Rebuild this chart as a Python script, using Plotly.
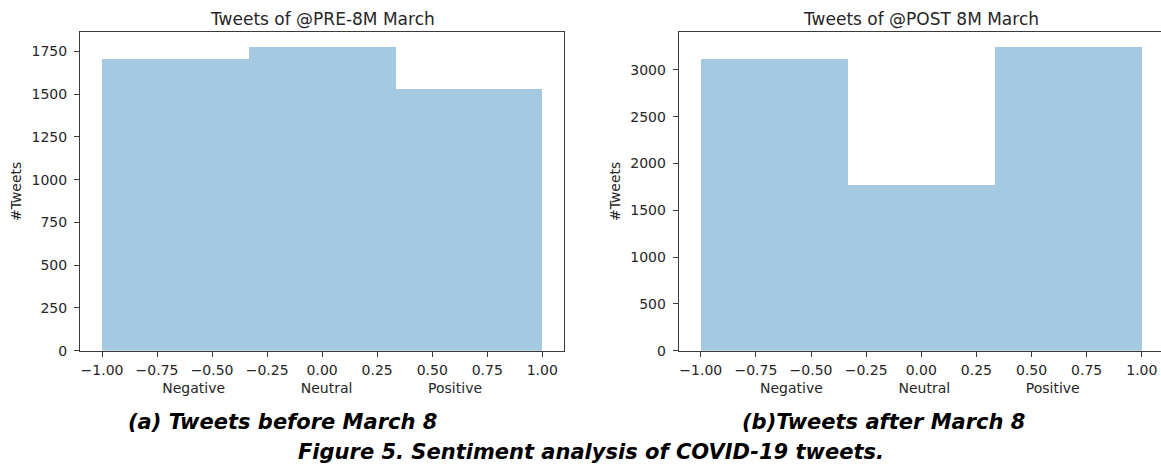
import plotly.graph_objects as go

# Sentiment histogram: three equal bins over the polarity score range [-1, 1]
bin_edges = [-1.0, -1 / 3, 1 / 3, 1.0]
sentiment_labels = ["Negative", "Neutral", "Positive"]
pre_counts = [1705, 1775, 1530]
post_counts = [3115, 1775, 3243]

x_ticks = [-1.0, -0.75, -0.5, -0.25, 0.0, 0.25, 0.5, 0.75, 1.0]
pre_title = "Tweets of @PRE-8M March"
post_title = "Tweets of @POST 8M March"
caption_a = "(a) Tweets before March 8"
caption_b = "(b)Tweets after March 8"
figure_caption = "Figure 5. Sentiment analysis of COVID-19 tweets."

centers = [(a + b) / 2 for a, b in zip(bin_edges[:-1], bin_edges[1:])]
widths = [b - a for a, b in zip(bin_edges[:-1], bin_edges[1:])]

W, H = 1161, 464
BAR = "rgba(31,119,180,0.4)"
AX = "#3a3a3a"
TXT = "#262626"
FONT = "DejaVu Sans"

gap = "\u00a0" * 17
xlabel = gap.join(sentiment_labels)

fig = go.Figure()
fig.add_trace(go.Bar(x=centers, y=pre_counts, width=widths,
                     marker=dict(color=BAR, line=dict(width=0)),
                     xaxis="x", yaxis="y", showlegend=False))
fig.add_trace(go.Bar(x=centers, y=post_counts, width=widths,
                     marker=dict(color=BAR, line=dict(width=0)),
                     xaxis="x2", yaxis="y2", showlegend=False))


def xaxis_style(domain, rng, anchor):
    return dict(domain=domain, range=rng, anchor=anchor, automargin=False,
                tickmode="array", tickvals=x_ticks, tickformat=".2f",
                ticks="outside", ticklen=5, tickwidth=1, tickcolor=AX,
                ticklabelstandoff=1,
                showline=True, linecolor=AX, linewidth=1, mirror=True,
                showgrid=False, zeroline=False,
                tickfont=dict(family=FONT, size=14, color=TXT),
                title=dict(text=xlabel, standoff=6,
                           font=dict(family=FONT, size=14, color=TXT)))


def yaxis_style(domain, top, dtick, anchor, mirror):
    return dict(domain=domain, range=[0, top], anchor=anchor, automargin=False,
                tick0=0, dtick=dtick,
                ticks="outside", ticklen=5, tickwidth=1, tickcolor=AX,
                ticklabelstandoff=4,
                showline=True, linecolor=AX, linewidth=1, mirror=mirror,
                showgrid=False, zeroline=False,
                tickfont=dict(family=FONT, size=14, color=TXT),
                title=dict(text="#Tweets", standoff=6,
                           font=dict(family=FONT, size=14, color=TXT)))


ydom = [1 - 350.7 / H, 1 - 32 / H]
fig.update_layout(
    width=W, height=H,
    margin=dict(l=0, r=0, t=0, b=0, pad=0),
    paper_bgcolor="white", plot_bgcolor="white",
    bargap=0,
    xaxis=xaxis_style([80 / W, 564.3 / W], [-1.1, 1.1], "y"),
    yaxis=yaxis_style(ydom, max(pre_counts) * 1.05, 250, "x", True),
    xaxis2=xaxis_style([678.7 / W, 1.0], [-1.1, 1.087], "y2"),
    yaxis2=yaxis_style(ydom, max(post_counts) * 1.05, 500, "x2", False),
)

annotations = [
    dict(text=pre_title, x=322 / W, y=1 - 19 / H, font=dict(size=17)),
    dict(text=post_title, x=921 / W, y=1 - 19 / H, font=dict(size=17)),
    dict(text=caption_a, x=282 / W, y=1 - 422 / H,
         font=dict(size=21, weight="bold", style="italic", color="#000")),
    dict(text=caption_b, x=883 / W, y=1 - 422 / H,
         font=dict(size=21, weight="bold", style="italic", color="#000")),
    dict(text=figure_caption, x=591 / W, y=1 - 452 / H,
         font=dict(size=21, weight="bold", style="italic", color="#000")),
]
for a in annotations:
    f = dict(family=FONT, color=TXT)
    f.update(a.pop("font"))
    fig.add_annotation(xref="paper", yref="paper", xanchor="center",
                       yanchor="middle", showarrow=False, font=f, **a)

fig.write_html("out.html")
